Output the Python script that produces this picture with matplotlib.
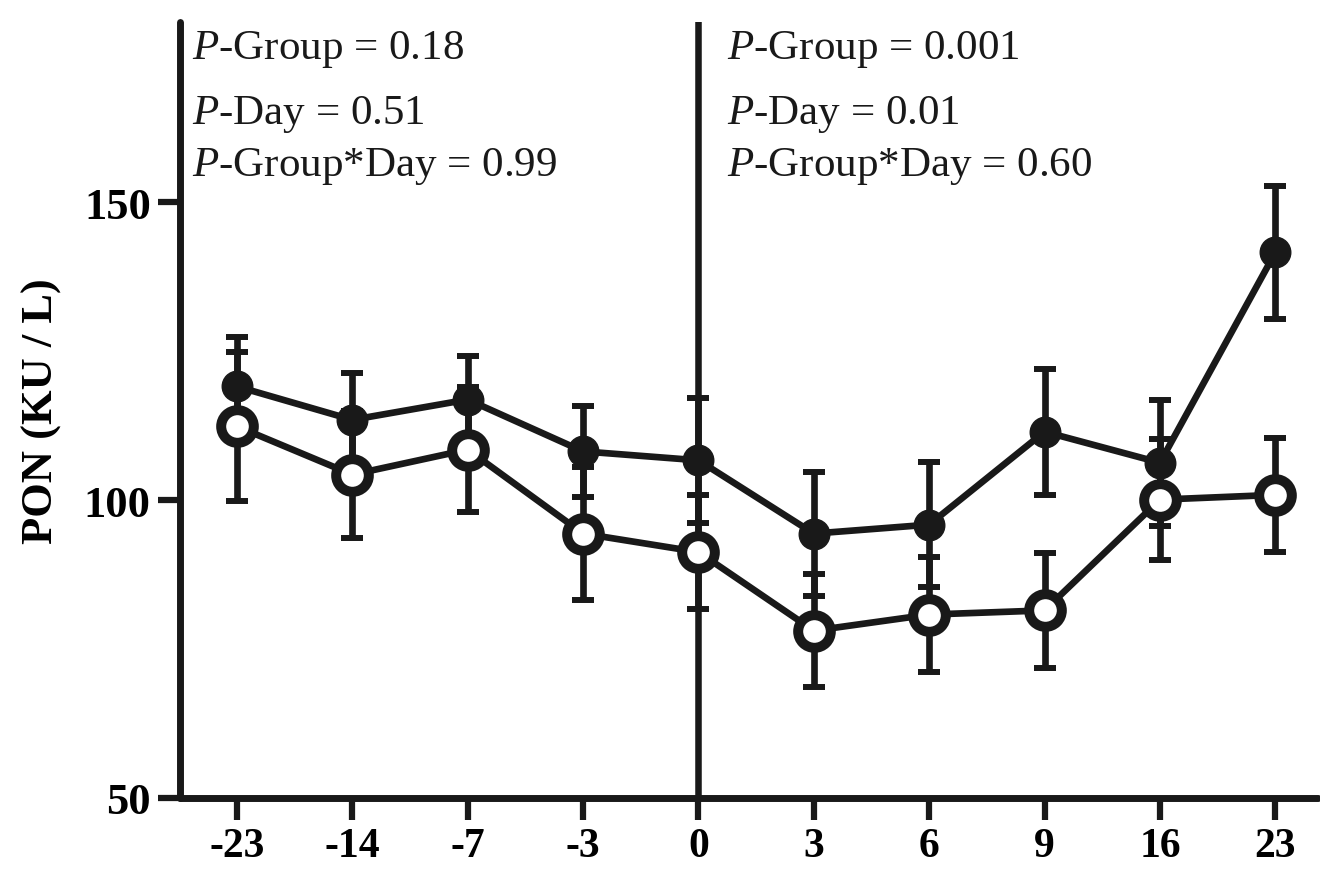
import numpy as np
import matplotlib
matplotlib.use("Agg")
import matplotlib.pyplot as plt

plt.rcParams['font.family'] = ['Liberation Serif', 'DejaVu Serif']
plt.rcParams['mathtext.fontset'] = 'custom'
plt.rcParams['mathtext.rm'] = 'Liberation Serif'
plt.rcParams['mathtext.it'] = 'Liberation Serif:italic'

days = ['-23', '-14', '-7', '-3', '0', '3', '6', '9', '16', '23']
# filled circles
grp_a = [119.1, 113.5, 116.9, 108.2, 106.7, 94.4, 95.9, 111.5, 106.3, 141.6]
grp_a_err = [8.3, 7.8, 7.4, 7.6, 10.5, 10.4, 10.5, 10.6, 10.6, 11.2]
# open circles
grp_b = [112.4, 104.3, 108.5, 94.4, 91.3, 78.1, 80.8, 81.5, 100.1, 100.9]
grp_b_err = [12.5, 10.6, 10.5, 11.2, 9.6, 9.5, 9.6, 9.6, 10.1, 9.6]

stats_pre = ['$P$-Group = 0.18', '$P$-Day = 0.51', '$P$-Group*Day = 0.99']
stats_post = ['$P$-Group = 0.001', '$P$-Day = 0.01', '$P$-Group*Day = 0.60']

col = '#191919'
x = np.arange(len(days))

fig = plt.figure(figsize=(13.2, 8.7), dpi=100)
ax = fig.add_axes([180/1320, 1-799/870, (1318-180)/1320, (799-23)/870])

# error bars behind everything
for vals, errs in [(grp_a, grp_a_err), (grp_b, grp_b_err)]:
    eb = ax.errorbar(x, vals, yerr=errs, fmt='none', ecolor=col, elinewidth=4.8,
                     capsize=8, capthick=4.3, zorder=2)
    for c in eb[1]:
        c.set_solid_capstyle('round')

ax.plot(x, grp_a, '-o', color=col, lw=4.8, ms=22, mew=1, mfc=col, mec=col, zorder=3)
ax.plot(x, grp_b, '-o', color=col, lw=4.8, ms=23.5, mew=7.2, mfc='white', mec=col, zorder=4)

# day 0 separator
ax.axvline(4, color=col, lw=4.7, zorder=1)

ax.set_xlim(-0.494, 9.37)
ax.set_ylim(50, 180.3)
ax.set_yticks([50, 100, 150])
ax.set_xticks(x)
ax.set_xticklabels(days)

for s in ['top', 'right']:
    ax.spines[s].set_visible(False)
for s in ['left', 'bottom']:
    ax.spines[s].set_linewidth(5)
    ax.spines[s].set_color(col)
    ax.spines[s].set_capstyle('round')

ax.tick_params(axis='both', direction='out', width=4.5, color=col, length=16)
ax.tick_params(axis='y', labelsize=32, pad=5)
ax.tick_params(axis='x', labelsize=30, pad=5)
for lab in ax.get_xticklabels() + ax.get_yticklabels():
    lab.set_fontweight('bold')

ax.set_ylabel('PON (KU / L)', fontsize=32, fontweight='bold', labelpad=16)

ys = [174.2, 163.4, 154.6]
for i in range(3):
    ax.text(-0.39, ys[i], stats_pre[i], fontsize=31, va='baseline', ha='left', color=col)
    ax.text(4.25, ys[i], stats_post[i], fontsize=31, va='baseline', ha='left', color=col)

plt.savefig('out.png', dpi=100)
plt.close()
